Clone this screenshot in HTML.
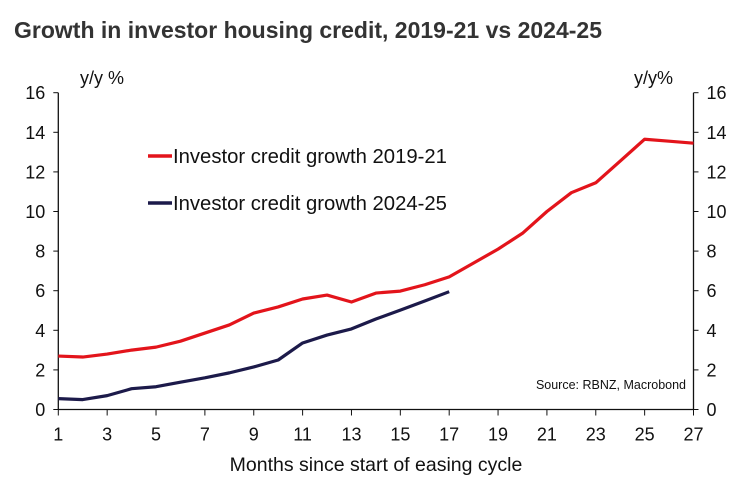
<!DOCTYPE html>
<html><head><meta charset="utf-8"><style>
body{margin:0;background:#fff;width:751px;height:498px;overflow:hidden}
svg{font-family:"Liberation Sans",Arial,sans-serif}
</style></head><body>
<svg id="chart" width="751" height="498">
<text x="14" y="38" font-size="23" font-weight="bold" fill="#333">Growth in investor housing credit, 2019-21 vs 2024-25</text>
<text x="80" y="84" font-size="18" fill="#111">y/y %</text>
<text x="634" y="84" font-size="18" fill="#111">y/y%</text>
<text x="376" y="471" font-size="19.5" fill="#111" text-anchor="middle">Months since start of easing cycle</text>
<text x="686" y="389" font-size="12.5" fill="#111" text-anchor="end">Source: RBNZ, Macrobond</text>
<g id="axes"></g>
<g id="series"></g>
<g>
<line x1="148" y1="156" x2="172" y2="156" stroke="#e3141b" stroke-width="3.5"/>
<text x="173" y="163" font-size="20.3" fill="#111">Investor credit growth 2019-21</text>
<line x1="148" y1="203" x2="172" y2="203" stroke="#1c1a4a" stroke-width="3.5"/>
<text x="173" y="210" font-size="20.3" fill="#111">Investor credit growth 2024-25</text>
</g>
</svg>
<script>
const months = [1,2,3,4,5,6,7,8,9,10,11,12,13,14,15,16,17,18,19,20,21,22,23,24,25,26,27];
const series2019 = [2.7,2.65,2.8,3.0,3.15,3.45,3.86,4.27,4.87,5.18,5.58,5.78,5.43,5.88,5.98,6.3,6.7,7.4,8.1,8.9,10.0,10.95,11.45,12.55,13.65,13.55,13.45];
const series2024 = [0.55,0.5,0.7,1.05,1.15,1.38,1.6,1.85,2.15,2.5,3.36,3.76,4.07,4.57,5.02,5.48,5.95];
const yTicks = [0,2,4,6,8,10,12,14,16];
const xTicks = [1,3,5,7,9,11,13,15,17,19,21,23,25,27];
const X0=58.3, X1=693.5, Y0=409.5, Y1=92.7;
const xs = m => X0 + (m-1)/(26)*(X1-X0);
const ys = v => Y0 - v/16*(Y0-Y1);
const NS="http://www.w3.org/2000/svg";
const axes=document.getElementById('axes'), ser=document.getElementById('series');
function mk(tag,attrs,parent){const e=document.createElementNS(NS,tag);for(const k in attrs)e.setAttribute(k,attrs[k]);parent.appendChild(e);return e;}
let l=mk('line',{x1:X0,y1:Y1,x2:X0,y2:Y0,stroke:'#111','stroke-width':1.3},axes);


l=mk('line',{x1:X1,y1:Y1,x2:X1,y2:Y0,stroke:'#111','stroke-width':1.3},axes);


l=mk('line',{x1:X0,y1:Y0,x2:X1,y2:Y0,stroke:'#111','stroke-width':1.3},axes);


yTicks.forEach(v=>{
  const y=ys(v);
  mk('line',{x1:X0-5,y1:y,x2:X0,y2:y,stroke:'#111'},axes);
  mk('line',{x1:X1,y1:y,x2:X1+5,y2:y,stroke:'#111'},axes);
  let t=mk('text',{x:X0-13,y:y+6.5,'font-size':18,'text-anchor':'end',fill:'#111'},axes);t.textContent=v;
  
  
  t=mk('text',{x:X1+13,y:y+6.5,'font-size':18,'text-anchor':'start',fill:'#111'},axes);t.textContent=v;
  
  
});
xTicks.forEach(m=>{
  const x=xs(m);
  mk('line',{x1:x,y1:Y0,x2:x,y2:Y0+6,stroke:'#111'},axes);
  const t=mk('text',{x:x,y:Y0+31,'font-size':18,'text-anchor':'middle',fill:'#111'},axes);t.textContent=m;
  
  
});
function line(vals,color,name){
  const p=mk('polyline',{points:vals.map((v,i)=>xs(months[i])+','+ys(v)).join(' '),fill:'none',stroke:color,'stroke-width':3.2,'stroke-linejoin':'round'},ser);
  
  
}
line(series2019,'#e3141b','line-2019-21');
line(series2024,'#1c1a4a','line-2024-25');
</script>
</body></html>
